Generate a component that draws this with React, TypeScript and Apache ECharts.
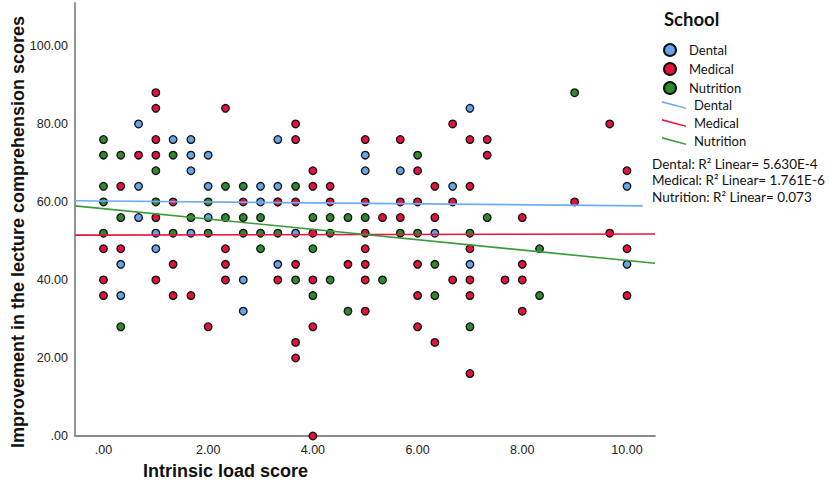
import React, { useEffect, useRef } from "react";
import * as echarts from "echarts";

// ---- data (x = intrinsic load score, y = improvement score) ----
const DENTAL: [number, number][] = [
  [0.33, 44], [0.33, 36], [0.67, 80], [0.67, 64], [0.67, 56], [1, 52], [1, 48],
  [1.33, 76], [1.67, 76], [1.67, 72], [1.67, 68], [1.67, 52], [2, 72], [2, 64], [2, 56],
  [2.67, 40], [2.67, 32], [3, 64], [3, 60], [3.33, 76], [3.33, 64], [3.33, 60], [3.33, 44],
  [3.67, 52], [5, 72], [5, 68], [5.67, 68], [6.33, 52], [6.67, 64], [7, 84], [7, 44],
  [10, 64], [10, 44],
];
const MEDICAL: [number, number][] = [
  [0, 48], [0, 40], [0, 36], [0.33, 64], [0.33, 48], [0.67, 72],
  [1, 88], [1, 84], [1, 76], [1, 72], [1, 56], [1, 40], [1.33, 60], [1.33, 44], [1.33, 36],
  [1.67, 36], [2, 28], [2.33, 84], [2.33, 48], [2.33, 44], [2.33, 40], [2.67, 60],
  [3.33, 60], [3.33, 40], [3.67, 80], [3.67, 76], [3.67, 60], [3.67, 44], [3.67, 24], [3.67, 20],
  [4, 68], [4, 64], [4, 52], [4, 40], [4, 28], [4, 0], [4.33, 64], [4.33, 60], [4.67, 44],
  [5, 76], [5, 60], [5, 52], [5, 48], [5, 44], [5, 40], [5, 32], [5.33, 56],
  [5.67, 76], [5.67, 60], [5.67, 56], [6, 68], [6, 60], [6, 44], [6, 36], [6, 28],
  [6.33, 64], [6.33, 56], [6.33, 24], [6.67, 80], [6.67, 60], [6.67, 40],
  [7, 76], [7, 64], [7, 48], [7, 40], [7, 36], [7, 16], [7.33, 76], [7.33, 72], [7.67, 40],
  [8, 56], [8, 44], [8, 40], [8, 32], [9, 60], [9.67, 80], [9.67, 52], [10, 68], [10, 48], [10, 36],
];
const NUTRITION: [number, number][] = [
  [0, 76], [0, 72], [0, 64], [0, 60], [0, 52], [0.33, 72], [0.33, 56], [0.33, 28],
  [1, 68], [1, 60], [1.33, 72], [1.33, 52], [1.67, 56], [2, 60], [2, 52], [2.33, 64], [2.33, 56],
  [2.67, 64], [2.67, 56], [2.67, 52], [3, 56], [3, 52], [3, 48], [3.33, 52], [3.67, 64], [3.67, 40],
  [4, 56], [4, 48], [4, 36], [4.33, 56], [4.33, 52], [4.33, 40], [4.67, 56], [4.67, 32],
  [5, 56], [5.33, 40], [5.67, 52], [6, 72], [6, 52], [6.33, 44], [6.33, 36], [7, 52], [7, 28],
  [7.33, 56], [8.33, 48], [8.33, 36], [9, 88],
];
const GROUPS = ["Dental", "Medical", "Nutrition"];
const R2_VALUES = ["5.630E-4", "1.761E-6", "0.073"];
// fit-line endpoints: [x start, y start, x end, y end]
const DENTAL_FIT = [-0.544, 60.3, 10.3, 59.0];
const MEDICAL_FIT = [-0.544, 51.5, 10.535, 51.8];
const NUTRITION_FIT = [-0.544, 59.0, 10.535, 44.3];
const X_TICKS = [0, 2, 4, 6, 8, 10];
const Y_TICKS = [0, 20, 40, 60, 80, 100];
const X_MIN = -0.544;
const X_MAX = 10.535;
const Y_MIN = 0;
const Y_MAX = 111;

const DOT_COLORS = ["#64a5ec", "#e5123c", "#2f8a2f"];
const LINE_COLORS = ["#70acf0", "#e5163f", "#3a9a3a"];

const fmt = (v: number) => v.toFixed(2).replace(/^0\./, ".");

const AXIS_FONT = "'Liberation Sans', Arial, sans-serif";
const LEG_FONT = "Lato, 'Open Sans', sans-serif";
const LINE_ICON =
  "path://M0,0L0.01,0Z M0,2.6 L24,9.0 L24,10.6 L0,4.2 Z M24,12L23.99,12Z";

export default function App() {
  const ref = useRef<HTMLDivElement>(null);
  useEffect(() => {
    if (!ref.current) return;
    const chart = echarts.init(ref.current, undefined, { renderer: "svg" });
    const sets = [DENTAL, MEDICAL, NUTRITION];
    const fits = [DENTAL_FIT, MEDICAL_FIT, NUTRITION_FIT];
    const scatter = sets.map((d, i) => ({
      name: GROUPS[i],
      type: "scatter",
      data: d,
      symbol: "circle",
      symbolSize: 7.6,
      z: 2,
      itemStyle: { color: DOT_COLORS[i], borderColor: "#111", borderWidth: 1.3, opacity: 1 },
    }));
    const lines = fits.map((f, i) => ({
      name: GROUPS[i] + " fit",
      type: "line",
      data: [
        [f[0], f[1]],
        [f[2], f[3]],
      ],
      showSymbol: false,
      symbol: "none",
      z: 3,
      color: LINE_COLORS[i],
      itemStyle: { color: LINE_COLORS[i] },
      lineStyle: { color: LINE_COLORS[i], width: 1.6 },
    }));
    chart.setOption({
      animation: false,
      grid: { left: 75, right: 174, top: 3, bottom: 53, containLabel: false },
      xAxis: {
        type: "value",
        min: X_MIN,
        max: X_MAX,
        axisLine: { show: true, onZero: false, lineStyle: { color: "#8a8a8a", width: 1.8 } },
        axisTick: { show: false },
        splitLine: { show: false },
        axisLabel: {
          customValues: X_TICKS,
          formatter: (v: number) => fmt(v),
          color: "#222",
          fontSize: 12.5,
          fontFamily: AXIS_FONT,
          margin: 7,
        },
      },
      yAxis: {
        type: "value",
        min: Y_MIN,
        max: Y_MAX,
        axisLine: { show: true, onZero: false, lineStyle: { color: "#8a8a8a", width: 1.8 } },
        axisTick: { show: false },
        splitLine: { show: false },
        axisLabel: {
          customValues: Y_TICKS,
          formatter: (v: number) => fmt(v),
          color: "#222",
          fontSize: 12.5,
          fontFamily: AXIS_FONT,
          margin: 7,
        },
      },
      legend: [
        {
          data: GROUPS,
          orient: "vertical",
          left: 658,
          top: 38,
          icon: "circle",
          itemWidth: 24,
          itemHeight: 12,
          itemGap: 5,
          textStyle: { fontSize: 13, fontFamily: LEG_FONT, color: "#111", padding: [0, 0, 0, 2] },
          selectedMode: false,
        },
        {
          data: GROUPS.map((g) => g + " fit"),
          orient: "vertical",
          left: 657,
          top: 93,
          icon: LINE_ICON,
          itemWidth: 24,
          itemHeight: 12,
          itemGap: 5,
          formatter: (n: string) => n.replace(" fit", ""),
          textStyle: { fontSize: 13, fontFamily: LEG_FONT, color: "#111", padding: [0, 0, 0, 3] },
          selectedMode: false,
        },
      ],
      graphic: [
        {
          type: "text",
          left: 664,
          top: 9,
          style: { text: "School", font: `bold 18.5px ${LEG_FONT}`, fill: "#111" },
        },
        ...GROUPS.map((g, i) => ({
          type: "text",
          x: 652,
          y: 164 + i * 16.3,
          style: {
            text: `${g}: R² Linear= ${R2_VALUES[i]}`,
            font: `13.5px ${LEG_FONT}`,
            fill: "#111",
            textVerticalAlign: "middle",
          },
        })),
        {
          type: "text",
          x: 18,
          y: 232,
          rotation: Math.PI / 2,
          style: {
            text: "Improvement in the lecture comprehension scores",
            font: `bold 18px ${AXIS_FONT}`,
            fill: "#111",
            textAlign: "center",
            textVerticalAlign: "middle",
          },
        },
        {
          type: "text",
          x: 143,
          y: 471,
          style: {
            text: "Intrinsic load score",
            font: `bold 18px ${AXIS_FONT}`,
            fill: "#111",
            textVerticalAlign: "middle",
          },
        },
      ],
      series: [...scatter, ...lines],
    });
    return () => chart.dispose();
  }, []);
  return (
    <div
      ref={ref}
      style={{ position: "fixed", left: 0, top: 0, width: 829, height: 489, background: "#fff" }}
    />
  );
}
